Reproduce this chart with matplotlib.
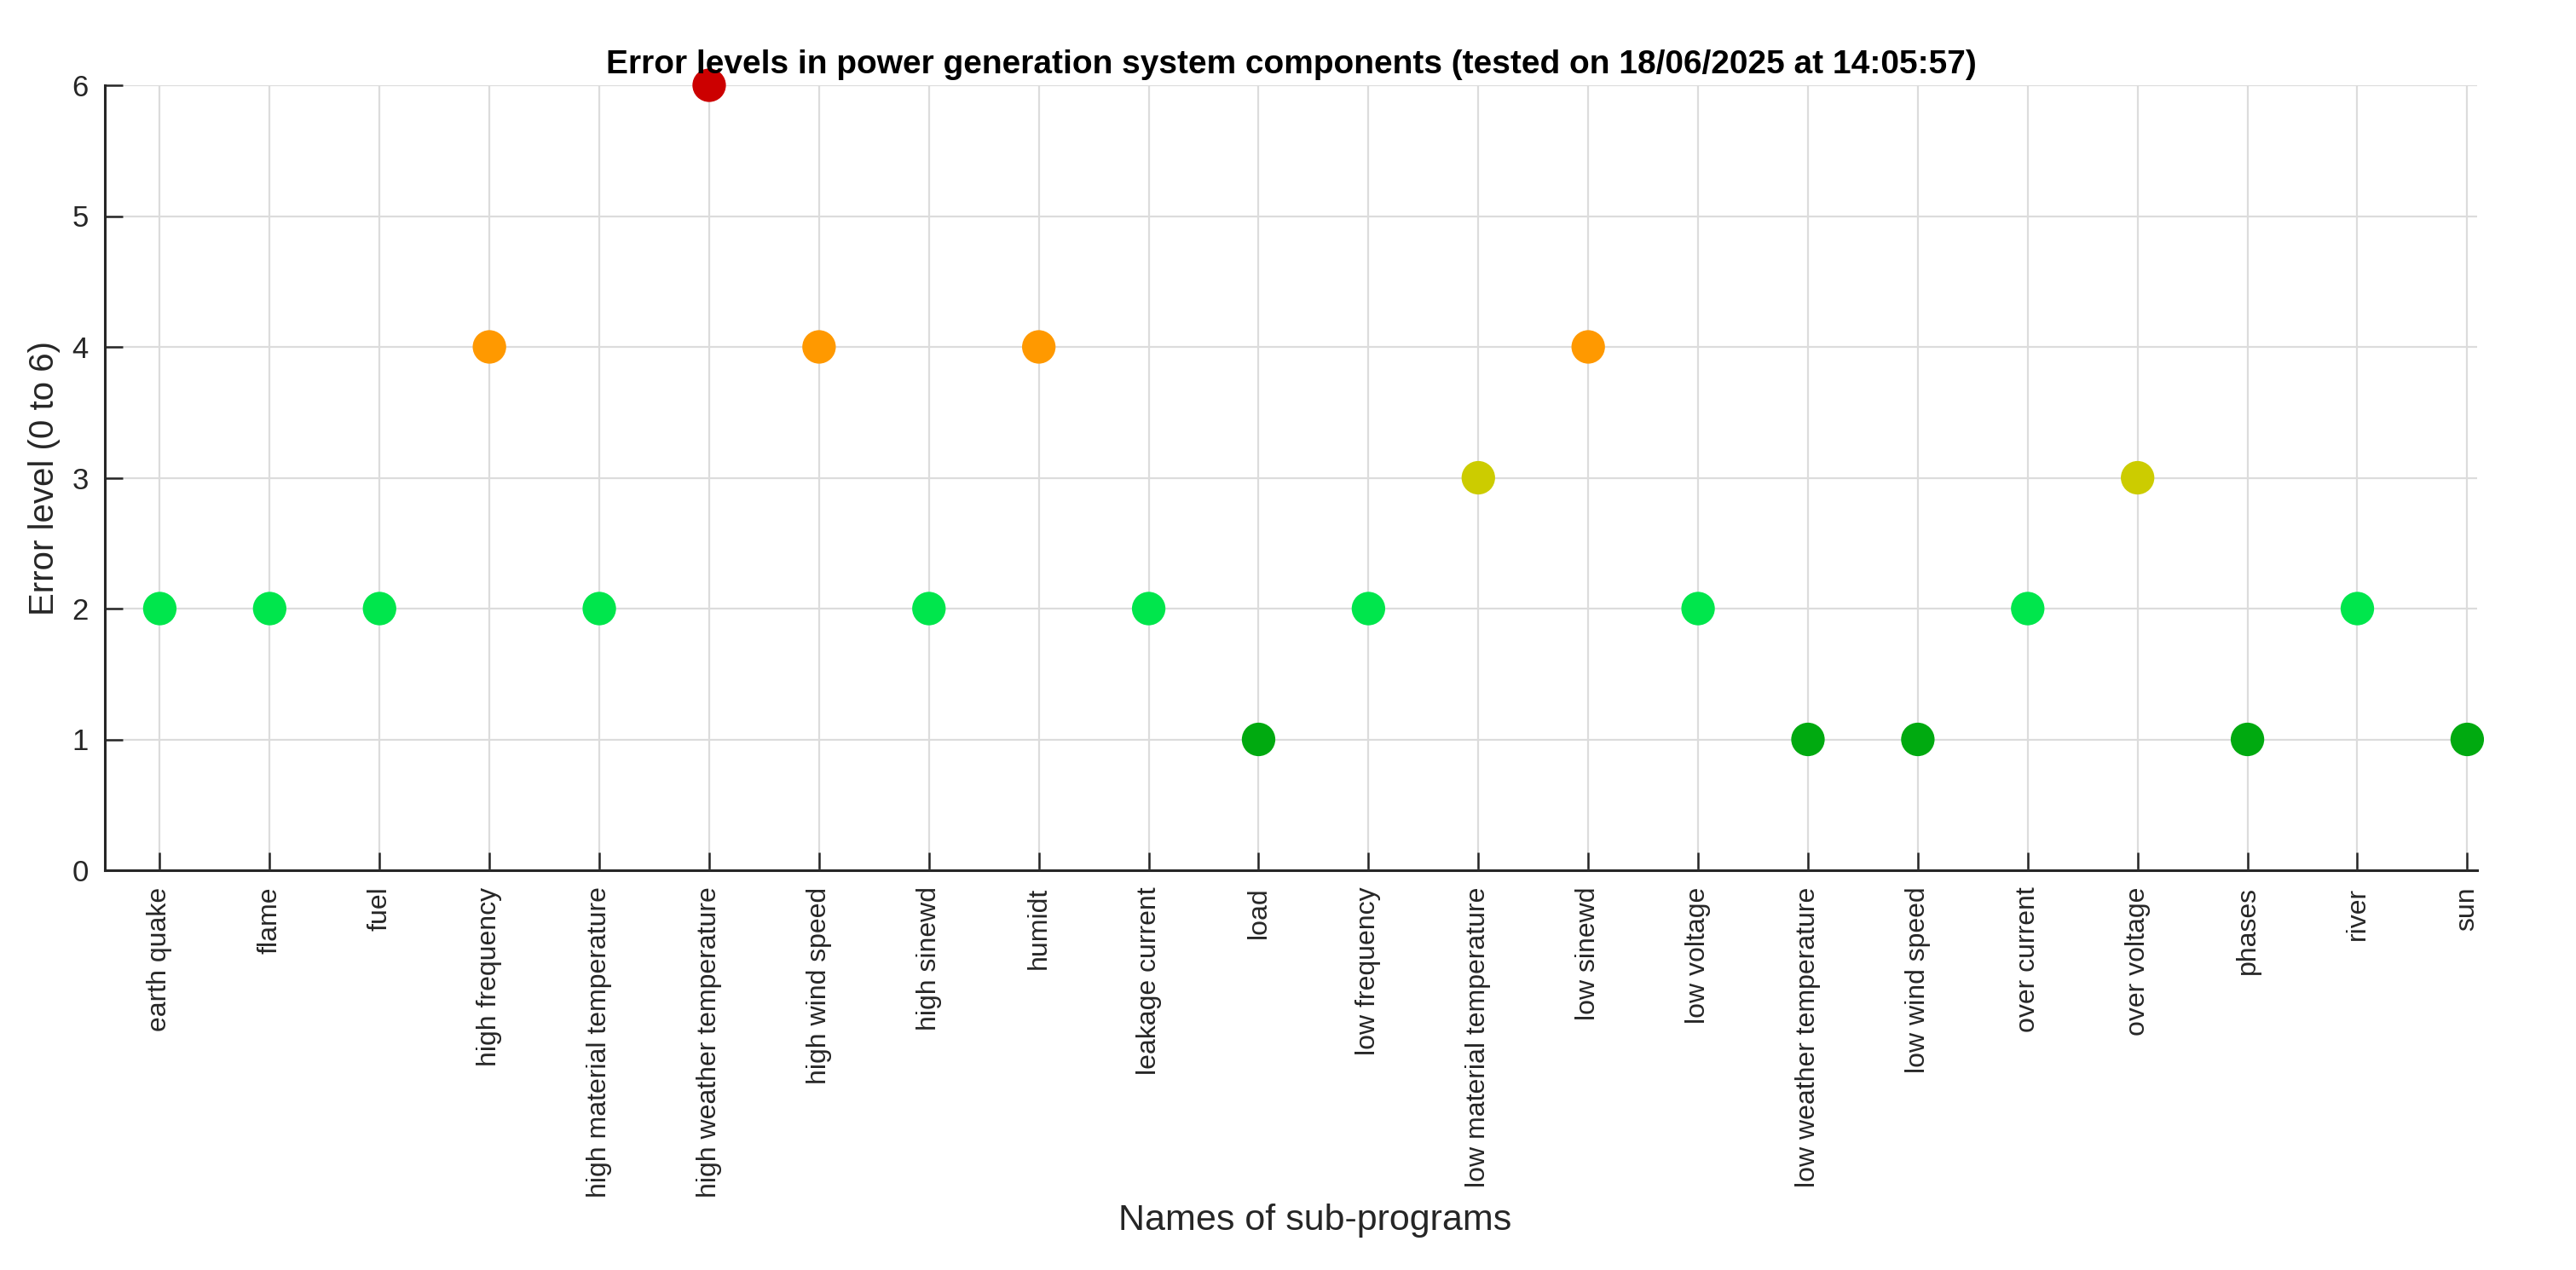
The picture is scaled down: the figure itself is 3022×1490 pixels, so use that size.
import matplotlib
matplotlib.use("Agg")
import matplotlib.pyplot as plt
import numpy as np

categories = ["earth quake", "flame", "fuel", "high frequency", "high material temperature",
              "high weather temperature", "high wind speed", "high sinewd", "humidt",
              "leakage current", "load", "low frequency", "low material temperature",
              "low sinewd", "low voltage", "low weather temperature", "low wind speed",
              "over current", "over voltage", "phases", "river", "sun"]
levels = [2, 2, 2, 4, 2, 6, 4, 2, 4, 2, 1, 2, 3, 4, 2, 1, 1, 2, 3, 1, 2, 1]
yticks = [0, 1, 2, 3, 4, 5, 6]

level_colors = {0: "#00AA00", 1: "#00AA10", 2: "#00E64C", 3: "#CCCC00",
                4: "#FF9900", 5: "#FF5500", 6: "#CC0000"}

plt.rcParams['font.family'] = ['Liberation Sans', 'DejaVu Sans']

fig = plt.figure(figsize=(30.22, 14.90), dpi=100)
ax = fig.add_axes([123/3022, 1 - 1021/1490, (2906-123)/3022, (1021-100)/1490])

x = np.arange(1, len(categories) + 1)
cols = [level_colors[v] for v in levels]
ax.scatter(x, levels, s=800, c=cols, zorder=3, clip_on=False, linewidths=0)

ax.set_xlim(0.5, 22.09)
ax.set_ylim(0, 6)
ax.set_xticks(x)
ax.set_xticklabels(categories, rotation=90, ha='center', va='top', fontsize=23, color='#262626')
ax.set_yticks(yticks)
ax.set_yticklabels([str(t) for t in yticks], fontsize=25, color='#262626')

ax.grid(True, color='#dcdcdc', linewidth=1.6, zorder=0)
ax.set_axisbelow(True)
for s in ['top', 'right']:
    ax.spines[s].set_visible(False)
for s in ['left', 'bottom']:
    ax.spines[s].set_color('#262626')
    ax.spines[s].set_linewidth(2.2)
ax.tick_params(axis='both', direction='in', length=15, width=1.8, color='#262626')
ax.tick_params(axis='x', pad=14)
ax.tick_params(axis='y', pad=14)

ax.set_title("Error levels in power generation system components (tested on 18/06/2025 at 14:05:57)",
             fontsize=28, fontweight='bold', pad=10)
ax.set_xlabel("Names of sub-programs", fontsize=31, color='#262626')
ax.xaxis.set_label_coords(0.51, -0.446)
ax.xaxis.label.set_va('center')
ax.set_ylabel("Error level (0 to 6)", fontsize=29, color='#262626')
ax.yaxis.set_label_coords(-0.0255, 0.5)
ax.yaxis.label.set_va('center')

fig.savefig("out.png", dpi=100, facecolor='white')
